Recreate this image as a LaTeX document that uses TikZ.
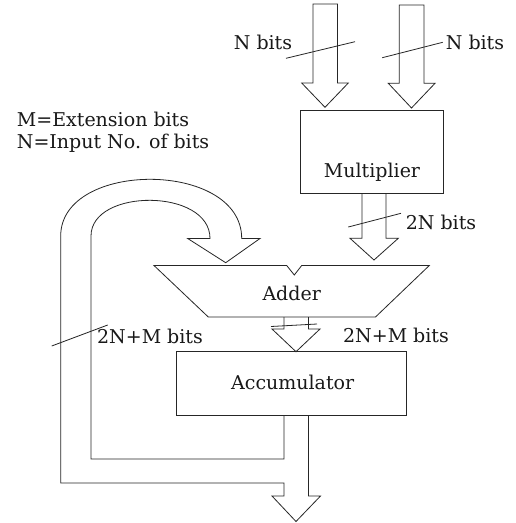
\documentclass[tikz,border=0pt]{standalone}
\usepackage{fontspec}
\setmainfont{DejaVu Serif}
\newcommand\diagfont{\fontsize{19}{22}\selectfont}
\tikzset{
  wire/.style={draw=black!85, line width=0.8pt, line join=miter},
  boxnode/.style={draw=black!85, line width=0.8pt, inner sep=0pt, rectangle},
  lbl/.style={font=\diagfont, inner sep=0pt, text=black!90},
}
\begin{document}
\begin{tikzpicture}[x=1pt, y=-1pt]
\useasboundingbox (0,0) rectangle (516,523);
\fill[white] (0,0) rectangle (516,523);

% boxes
\node[boxnode, minimum width=142.6pt, minimum height=83.3pt] (mult) at (372,151.65) {};
\node[lbl] (multtxt) at (372,172) {Multiplier};
\node[boxnode, minimum width=230pt, minimum height=63.3pt] (acc) at (291,383.35) {};
\node[lbl] (acctxt) at (292.7,382) {Accumulator};

% adder trapezoid
\coordinate (addtl) at (154,265.5);
\coordinate (addtr) at (429.3,265.5);
\coordinate (addbr) at (375.5,317);
\coordinate (addbl) at (208.3,317);
\draw[wire] (addtl) -- (286.7,265.5) -- (294.3,275) -- (301.7,265.5) -- (addtr) -- (addbr) -- (addbl) -- cycle;
\node[lbl] (addtxt) at (291.7,293) {Adder};

% input arrows
\draw[wire] (313,4) -- (313,83) -- (301.7,83) -- (325,107.3) -- (348.3,83) -- (337.5,83) -- (337.5,4) -- cycle;
\draw[wire] (399.3,5) -- (399.3,83.3) -- (388.3,83.3) -- (411.5,108) -- (435,83.3) -- (424,83.3) -- (424,5) -- cycle;
\coordinate (s1a) at (286,58.3); \coordinate (s1b) at (355,41.7);
\coordinate (s2a) at (382.3,57.7); \coordinate (s2b) at (442.7,42.3);
\draw[wire] (s1a) -- (s1b);
\draw[wire] (s2a) -- (s2b);
\node[lbl] (nb1) at (263,42) {N bits};
\node[lbl] (nb2) at (475,42) {N bits};

% multiplier output arrow
\draw[wire] (362,193.3) -- (362,238.3) -- (350,238.3) -- (374,260) -- (398.3,238.3) -- (386,238.3) -- (386,193.3);
\coordinate (s3a) at (348.3,227); \coordinate (s3b) at (401,213.3);
\draw[wire] (s3a) -- (s3b);
\node[lbl] (nb3) at (441,222) {2N bits};

% adder output arrow
\draw[wire] (284,317) -- (284,329) -- (272,329) -- (296,351.7) -- (320,329) -- (308.5,329) -- (308.5,317);
\coordinate (s4a) at (271,326.5); \coordinate (s4b) at (317,324);
\draw[wire] (s4a) -- (s4b);
\node[lbl] (nb4) at (396,335) {2N+M bits};

% feedback loop and output
\draw[wire] (284,415) -- (284,459) -- (91,459) -- (91,236)
  .. controls (91,188) and (210,188) .. (210,238.5)
  -- (187.7,238.5) -- (225.7,262.7) -- (260,238.5) -- (241.7,238.5)
  .. controls (241.7,160) and (60.7,160) .. (60.7,236)
  -- (60.7,483) -- (284,483) -- (284,496) -- (272,496) -- (296,521.5) -- (320.5,496) -- (308.5,496) -- (308.5,415);
\coordinate (s5a) at (51.7,346); \coordinate (s5b) at (107.7,325);
\draw[wire] (s5a) -- (s5b);
\node[lbl] (nb5) at (150,336) {2N+M bits};

% legend
\node[lbl, anchor=west] (leg1) at (16.7,119) {M=Extension bits};
\node[lbl, anchor=west] (leg2) at (16.7,143) {N=Input No. of bits};
\end{tikzpicture}
\end{document}
